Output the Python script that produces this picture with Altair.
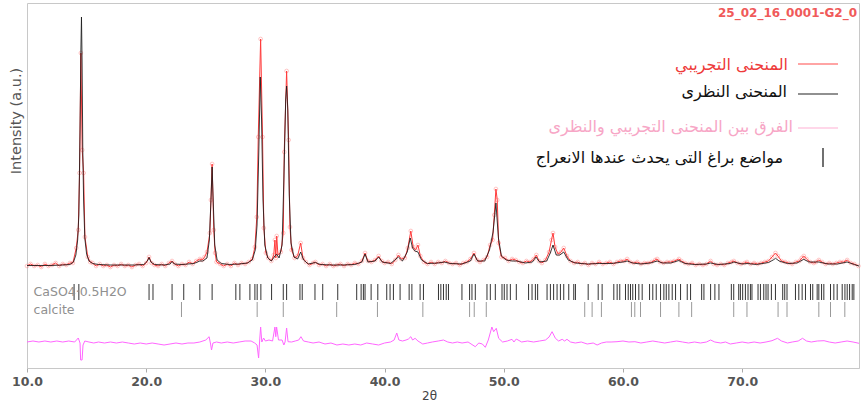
import altair as alt
import pandas as pd

# ---------------- data (2theta, intensity a.u.) ----------------
obs_points = [
    (10.0,102),(10.3,104),(10.6,102),(10.9,103),(11.2,101),(11.5,104),(11.8,102),(12.1,103),(12.4,105),(12.7,102),
    (13.0,104),(13.3,103),(13.6,105),(13.85,105),(14.13,120),(14.3,138),(14.41,195),(14.52,315),(14.63,218),(14.75,195),
    (14.86,131),(15.1,111),(15.3,106),(15.5,105),(15.8,102),(16.1,104),(16.4,102),(16.7,103),(17.0,101),(17.3,103),
    (17.6,102),(17.9,104),(18.2,102),(18.5,103),(18.8,101),(19.1,103),(19.4,104),(19.7,102),(20.0,105),(20.24,111),
    (20.45,105),(20.7,103),(21.0,102),(21.3,104),(21.6,102),(21.9,105),(22.17,107),(22.4,104),(22.7,102),(23.0,104),
    (23.3,103),(23.6,106),(23.9,104),(24.2,107),(24.5,109),(24.7,108),(24.9,111),(25.1,116),(25.34,135),(25.43,168),
    (25.53,204),(25.67,138),(25.78,115),(25.9,106),(26.2,104),(26.5,102),(26.8,104),(27.1,102),(27.4,105),(27.7,103),
    (28.0,105),(28.3,104),(28.6,106),(28.9,109),(29.12,121),(29.28,151),(29.4,231),(29.6,329),(29.76,231),(29.87,140),
    (30.04,115),(30.24,110),(30.5,107),(30.7,113),(30.8,128),(30.87,110),(30.95,132),(31.05,113),(31.3,116),(31.5,135),
    (31.58,216),(31.78,297),(31.95,228),(32.06,141),(32.2,118),(32.45,110),(32.7,112),(32.96,125),(33.15,110),(33.4,106),
    (33.7,103),(34.0,105),(34.2,106),(34.5,103),(34.8,104),(35.1,102),(35.4,104),(35.7,102),(36.0,103),(36.3,104),
    (36.6,102),(36.9,104),(37.2,103),(37.5,105),(37.8,104),(38.1,107),(38.36,115),(38.6,107),(38.9,106),(39.2,108),
    (39.5,112),(39.75,107),(40.0,105),(40.3,106),(40.6,104),(40.9,108),(41.16,113),(41.4,109),(41.7,110),(41.95,120),
    (42.2,137),(42.4,121),(42.6,118),(42.8,123),(43.0,112),(43.3,106),(43.6,104),(43.9,106),(44.2,104),(44.5,106),
    (44.8,105),(45.1,107),(45.4,105),(45.7,104),(46.0,105),(46.3,103),(46.6,105),(46.9,106),(47.2,109),(47.5,115),
    (47.75,108),(48.0,106),(48.3,108),(48.6,111),(48.85,123),(49.06,128),(49.2,153),(49.34,179),(49.45,168),(49.57,125),
    (49.8,111),(50.1,110),(50.4,107),(50.7,109),(51.0,108),(51.3,106),(51.6,105),(51.9,107),(52.2,106),(52.5,109),
    (52.73,113),(52.95,107),(53.2,105),(53.5,108),(53.8,116),(54.0,128),(54.13,135),(54.3,121),(54.55,114),(54.8,116),
    (55.03,120),(55.3,112),(55.6,107),(55.9,105),(56.2,106),(56.5,104),(56.8,105),(57.1,103),(57.4,105),(57.7,104),
    (58.0,106),(58.3,104),(58.6,105),(58.9,106),(59.2,104),(59.5,106),(59.8,107),(60.1,107),(60.35,109),(60.6,106),
    (60.9,105),(61.2,106),(61.5,104),(61.8,105),(62.1,105),(62.4,106),(62.7,108),(62.87,109),(63.1,106),(63.4,105),
    (63.7,106),(64.0,106),(64.3,107),(64.69,109),(64.9,107),(65.2,105),(65.5,104),(65.8,105),(66.1,103),(66.4,104),
    (66.7,103),(67.0,104),(67.35,107),(67.6,104),(67.9,103),(68.2,104),(68.5,103),(68.8,105),(69.1,106),(69.3,107),
    (69.6,105),(69.9,104),(70.2,105),(70.4,106),(70.7,104),(71.0,105),(71.3,104),(71.6,105),(71.9,106),(72.2,107),
    (72.5,111),(72.79,115),(73.0,112),(73.3,107),(73.6,106),(73.9,105),(74.2,104),(74.5,106),(74.8,107),(75.0,110),
    (75.17,112),(75.4,109),(75.7,106),(76.0,105),(76.2,106),(76.43,108),(76.7,106),(77.0,104),(77.3,105),(77.6,104),
    (77.9,105),(78.2,106),(78.5,106),(78.81,108),(79.1,105),(79.4,104),(79.75,102),
]

calc_points = [
    (10.0,102.5),(11.0,102.5),(12.0,102.5),(13.0,103),(13.6,103.5),(13.9,106),(14.1,113),(14.25,128),(14.35,153),
    (14.45,238),(14.52,318),(14.57,351),(14.62,308),(14.68,218),(14.75,168),(14.85,130),(15.0,114),(15.2,107),
    (15.5,104.5),(16.0,103.5),(17.0,103),(18.0,103),(19.0,103),(19.8,103.5),(20.1,107),(20.24,110.5),(20.4,106),
    (20.7,103.5),(21.5,103),(22.0,104),(22.17,106.5),(22.35,104),(23.0,103.5),(24.0,104.5),(24.5,107),(24.75,107),
    (25.1,110),(25.3,128),(25.45,173),(25.53,201),(25.62,168),(25.75,123),(25.95,108),(26.3,104.5),(27.0,103.5),
    (27.8,104),(28.5,105),(28.9,108),(29.15,118),(29.3,143),(29.45,218),(29.57,291),(29.68,248),(29.8,168),
    (29.95,123),(30.2,110),(30.5,107),(30.8,112),(30.94,114),(31.15,110),(31.4,123),(31.55,188),(31.7,268),
    (31.78,282),(31.88,258),(32.0,173),(32.15,125),(32.4,111),(32.7,109),(32.96,116),(33.2,108),(33.6,104),
    (34.2,105.5),(34.6,103.5),(35.5,103),(36.5,103),(37.5,103.5),(38.1,106),(38.36,114),(38.6,106),(39.2,107),
    (39.5,111),(39.8,106),(40.5,104.5),(41.16,111),(41.5,107),(41.9,116),(42.15,130),(42.35,120),(42.55,117),
    (42.8,116),(43.1,108),(43.6,104.5),(44.5,105),(45.0,106),(45.5,104.5),(46.5,104),(47.2,107),(47.5,114),
    (47.8,107),(48.4,107),(48.8,118),(49.1,136),(49.34,165),(49.55,130),(49.8,112),(50.2,108),(50.7,107),
    (51.1,107),(51.8,105),(52.4,106),(52.7,111),(53.0,106),(53.6,107),(53.9,115),(54.13,123),(54.4,113),
    (54.7,113),(55.03,116),(55.4,108),(56.0,105),(57.0,104),(58.0,104.5),(59.0,104.5),(60.0,106),(60.35,107),
    (60.8,105),(61.5,104),(62.3,105),(62.87,107),(63.3,105),(64.0,105),(64.69,107.5),(65.2,104.5),(66.0,103.5),
    (67.0,104),(67.35,105),(68.0,103.5),(69.0,104.5),(69.3,106),(70.0,104),(70.4,104.5),(71.2,103.5),(72.2,105.5),
    (72.6,108),(72.8,109.7),(73.1,107),(73.8,104.5),(74.6,105),(75.17,108.7),(75.6,106),(76.43,106),(77.2,104),
    (78.0,104),(78.8,106),(79.4,103.5),(79.8,102),
]

# difference curve (drawn with its usual offset below the pattern)
diff_points = [
    (10.0,26),(10.5,27),(11.0,26),(11.5,27),(12.0,26),(12.5,27),(13.0,26),(13.5,27),(14.0,26),(14.3,30),
    (14.45,25),(14.5,8),(14.62,8),(14.7,23),(14.85,27),(15.2,26),(15.6,25),(16.0,26),(16.5,25),(17.0,26),
    (17.5,25),(18.0,26),(18.5,25),(19.0,24),(19.5,25),(20.0,24),(20.5,25),(21.0,24),(21.5,23),(22.0,24),
    (22.5,25),(23.0,24),(23.5,25),(24.0,25),(24.5,26),(25.0,28),(25.28,31.3),(25.4,24),(25.48,18),(25.6,25),
    (25.9,26),(26.3,25),(26.8,26),(27.3,25),(27.8,26),(28.3,27),(28.8,27),(29.1,25),(29.3,23),(29.43,10),
    (29.52,28),(29.6,41),(29.7,26),(29.85,30),(30.0,27),(30.3,28),(30.6,27),(30.8,41),(30.87,31.3),(30.94,41),
    (31.1,28),(31.4,28),(31.55,23),(31.65,26),(31.78,40),(31.9,26.3),(32.2,26),(32.5,27),(32.8,28),(32.98,31.3),
    (33.2,27),(33.6,26),(34.0,25),(34.5,26),(35.0,24),(35.5,25),(36.0,23),(36.5,24),(37.0,23),(37.5,24),
    (38.0,23),(38.5,25),(39.0,24),(39.5,23),(40.0,25),(40.5,26),(40.8,28),(41.02,35),(41.2,28),(41.5,27),
    (41.8,28),(42.0,29),(42.2,31.3),(42.35,28),(42.56,29.7),(42.8,27),(43.2,24),(43.6,25),(44.0,26),(44.5,27),
    (44.94,28),(45.3,26),(45.7,25),(46.1,26),(46.5,25),(47.0,26),(47.61,21.3),(47.9,25),(48.2,24),(48.45,20.7),
    (48.7,28),(49.0,41),(49.15,36.3),(49.37,39.7),(49.57,29.7),(49.9,26),(50.3,27),(50.69,28.7),(50.85,26),(51.05,29),
    (51.5,26),(52.0,27),(52.5,26),(53.0,27),(53.5,28),(53.8,31),(54.05,36.3),(54.33,29.7),(54.6,27),(54.9,28.7),
    (55.1,27),(55.3,28.7),(55.6,26),(56.0,25),(56.5,26),(57.0,24),(57.5,25),(57.83,23),(58.2,25),(58.6,26),
    (59.0,26),(59.5,26.3),(60.0,27),(60.5,26),(61.0,26.3),(61.5,25),(62.0,26),(62.5,27),(63.0,26),(63.5,25),
    (64.0,26),(64.5,27),(65.0,26),(65.5,25),(66.0,26),(66.5,25),(67.0,26),(67.35,28),(67.7,26),(68.2,25),
    (68.6,26),(69.0,24),(69.5,25),(70.0,26),(70.5,25),(71.0,26),(71.5,25),(72.0,26),(72.5,27.3),(72.96,29.7),
    (73.3,27),(73.8,25),(74.2,26),(74.7,27),(75.06,29.7),(75.4,27),(75.8,26),(76.3,27),(76.87,27.3),(77.3,26),
    (77.8,25),(78.3,26),(78.8,27),(79.3,26),(79.8,24.7),
]

# Bragg reflection positions (2theta)
caso4_ticks = [
    13.95,14.35,20.24,20.57,22.17,23.15,24.50,25.53,27.52,27.86,28.70,29.12,29.31,29.62,30.52,31.50,31.78,32.90,33.09,
    34.16,34.81,36.07,37.66,38.03,38.22,38.36,38.87,39.43,40.18,40.46,40.74,41.30,42.06,42.29,42.98,43.26,
    44.52,44.72,44.94,45.17,45.36,46.49,47.13,47.33,47.61,48.59,48.87,49.29,49.85,50.04,50.27,50.55,51.05,
    52.08,52.37,52.65,52.84,53.63,53.91,54.18,54.47,54.75,55.03,55.45,55.87,56.01,57.08,57.92,58.25,59.23,
    59.51,59.73,60.21,60.44,60.63,60.82,61.05,61.33,61.61,62.23,62.50,62.79,63.15,63.43,63.63,63.85,64.13,
    64.41,64.83,65.39,65.67,66.60,66.79,67.35,67.71,68.05,69.09,69.29,69.71,69.85,70.04,70.27,70.49,70.69,
    70.82,71.33,71.53,71.81,72.00,72.17,72.45,72.79,73.40,73.57,73.76,74.47,74.75,75.03,75.31,75.73,75.92,
    76.29,76.43,76.66,76.85,77.41,77.69,77.97,78.39,78.62,78.81,79.01,79.23,79.37,
]
calcite_ticks = [
    22.96,29.31,31.50,35.98,39.40,43.21,47.13,47.52,48.53,56.79,57.41,58.19,60.71,60.99,61.47,63.15,64.69,
    65.76,69.29,70.40,73.01,73.76,76.43,77.41,78.61,
]
phase_names = ["CaSO4·0.5H2O", "calcite"]

x_tick_values = [10, 20, 30, 40, 50, 60, 70]
legend_labels = [
    "المنحنى التجريبي",
    "المنحنى النظرى",
    "الفرق بين المنحنى التجريبي والنظرى",
    "مواضع براغ التى يحدث عندها الانعراج",
]
sample_name = "25_02_16_0001-G2_0"

# ---------------- frames ----------------
obs_df = pd.DataFrame(obs_points, columns=["tt", "I"])
calc_df = pd.DataFrame(calc_points, columns=["tt", "I"])
diff_df = pd.DataFrame(diff_points, columns=["tt", "I"])
caso4_df = pd.DataFrame({"tt": caso4_ticks, "y1": [84] * len(caso4_ticks), "y2": [68] * len(caso4_ticks)})
calcite_df = pd.DataFrame({"tt": calcite_ticks, "y1": [66] * len(calcite_ticks), "y2": [51] * len(calcite_ticks)})
phase_df = pd.DataFrame({"name": phase_names, "tt": [10.55, 10.55], "I": [76, 58]})
one = pd.DataFrame({"k": [0]})

W, H = 832, 365
xs = alt.Scale(domain=[10, 79.8], nice=False, zero=False)
ys = alt.Scale(domain=[0, 365], nice=False, zero=False)

x_enc = alt.X(
    "tt:Q", scale=xs,
    axis=alt.Axis(
        values=x_tick_values, format=".1f", title="2θ", labelFlush=False,
        labelFontSize=12.5, labelFontWeight="bold", labelColor="#555", labelFont="DejaVu Sans",
        labelPadding=3, tickSize=4, tickColor="#aaa", domainColor="#c8c8c8", grid=False,
        titleFontSize=12, titleFontWeight="normal", titleColor="#444", titleFont="DejaVu Sans",
        titleX=402, titleY=27, titleAlign="center", titleBaseline="middle",
    ),
)
y_enc = alt.Y("I:Q", scale=ys, axis=None)
x_plain = alt.X("tt:Q", scale=xs)

obs_line = alt.Chart(obs_df).mark_line(color="#ff3b3b", strokeWidth=1).encode(x=x_enc, y=y_enc)
obs_pts = alt.Chart(obs_df).mark_point(shape="circle", size=14, color="#ff4d4d", opacity=0.4, strokeWidth=0.8).encode(
    x=x_plain, y=y_enc)
calc_line = alt.Chart(calc_df).mark_line(color="#1a1a1a", strokeWidth=1, opacity=0.85).encode(x=x_plain, y=y_enc)
diff_line = alt.Chart(diff_df).mark_line(color="#ff66ff", strokeWidth=1).encode(x=x_plain, y=y_enc)

caso4_rules = alt.Chart(caso4_df).mark_rule(color="#000", strokeWidth=1, opacity=0.8).encode(
    x=x_plain, y=alt.Y("y1:Q", scale=ys, axis=None), y2="y2:Q")
calcite_rules = alt.Chart(calcite_df).mark_rule(color="#999", strokeWidth=1).encode(
    x=x_plain, y=alt.Y("y1:Q", scale=ys, axis=None), y2="y2:Q")

phase_text = alt.Chart(phase_df).mark_text(align="left", baseline="middle", fontSize=12.5,
                                           font="DejaVu Sans", color="#909090").encode(
    x=x_plain, y=y_enc, text="name:N")

# ---------------- legend (annotation) ----------------
leg_text_colors = ["#ee3a3a", "#111111", "#f7a6c6", "#111111"]
leg_line_colors = ["#ff4a4a", "#222222", "#ffb0d4"]
leg_text_x = [761, 760, 766, 756]
leg_text_y = [62, 89, 124, 155]
leg_line_y = [61, 91, 125]
legend_layers = []
for i, lab in enumerate(legend_labels):
    legend_layers.append(
        alt.Chart(one).mark_text(text=lab, align="right", baseline="middle", fontSize=16,
                                 font="DejaVu Sans", color=leg_text_colors[i]).encode(
            x=alt.value(leg_text_x[i]), y=alt.value(leg_text_y[i])))
for i in range(3):
    legend_layers.append(
        alt.Chart(one).mark_rule(color=leg_line_colors[i], strokeWidth=1.2).encode(
            x=alt.value(771), x2=alt.value(811), y=alt.value(leg_line_y[i])))
legend_layers.append(
    alt.Chart(one).mark_rule(color="#111", strokeWidth=1.2).encode(
        x=alt.value(796), y=alt.value(145), y2=alt.value(164)))

sample_text = alt.Chart(one).mark_text(text=sample_name, align="left", baseline="middle", fontSize=12,
                                       fontWeight="bold", font="DejaVu Sans", color="#f05a5a").encode(
    x=alt.value(691), y=alt.value(10))
ytitle = alt.Chart(one).mark_text(text="Intensity (a.u.)", angle=270, align="center", baseline="middle",
                                  fontSize=14.5, font="DejaVu Sans", color="#555").encode(
    x=alt.value(-10), y=alt.value(118))

chart = alt.layer(
    obs_line, caso4_rules, calcite_rules, phase_text, diff_line, obs_pts, calc_line,
    *legend_layers, sample_text, ytitle,
).properties(
    width=W, height=H,
    autosize=alt.AutoSizeParams(type="none"),
    padding={"left": 27, "top": 3, "right": 4, "bottom": 42},
    background="white",
).configure_view(stroke="#c8c8c8", strokeWidth=1)

chart.save("out.html", embed_options={"renderer": "svg", "actions": False})
